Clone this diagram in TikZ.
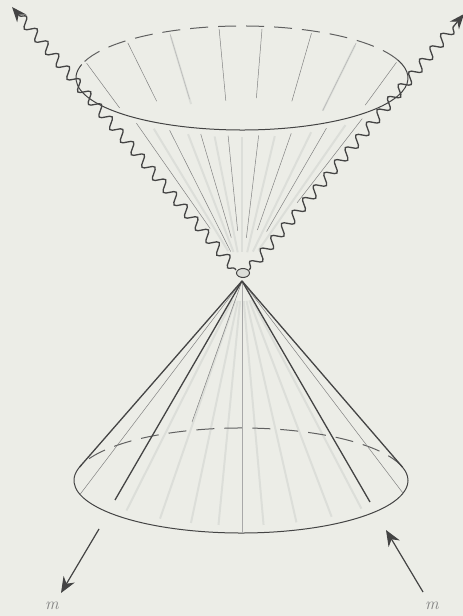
\documentclass[tikz,border=0pt]{standalone}
\usetikzlibrary{calc,decorations.pathmorphing,arrows.meta}
\definecolor{paper}{RGB}{236,237,231}
\definecolor{ink}{RGB}{68,68,68}
\definecolor{pencil}{RGB}{130,130,130}
\definecolor{ghost}{RGB}{220,222,217}
\begin{document}
\begin{tikzpicture}[x=1pt,y=1pt,
  rim/.style={ink, line width=1pt},
  rimback/.style={ink!85, line width=1pt, dash pattern=on 18pt off 10pt},
  edge/.style={ink, line width=1.3pt},
  fine/.style={pencil, line width=0.5pt},
  faint/.style={ghost, line width=2pt},
  photon/.style={ink, line width=1.3pt, decorate,
    decoration={snake, segment length=16.5pt, amplitude=5pt, pre length=2pt, post length=11pt},
    -{Stealth[length=15pt,width=12pt]}},
  particle/.style={ink, line width=1.2pt, -{Stealth[length=16pt,width=13pt]}},
  mass/.style={pencil, font=\fontsize{17}{17}\selectfont\itshape, inner sep=0pt}]
\fill[paper] (0,0) rectangle (463,616);
\useasboundingbox (0,0) rectangle (463,616);

% centres of the two rims and the common vertex
\coordinate (U) at (242,538);
\coordinate (AU) at (242,342);
\coordinate (AL) at (242,335);
\coordinate (L) at (241,135.5);

% faint streaks inside both cones
\foreach \t in {236,250,260,270,282,296,311}{
  \path (U) ++(\t:166 and 52) coordinate (g);
  \draw[faint] ($(g)!0.05!(AU)$) -- ($(g)!0.85!(AU)$);
}
\foreach \t in {116,46}{
  \path (U) ++(\t:166 and 52) coordinate (g);
  \draw[faint] ($(g)!0.02!(AU)$) -- ($(g)!0.3!(AU)$);
}
\foreach \t in {225,240,252,262,278,290,304,318}{
  \path (L) ++(\t:167 and 52.5) coordinate (g);
  \draw[faint] ($(AL)!0.08!(g)$) -- ($(AL)!0.97!(g)$);
}

% upper cone: rim
\path (U) ++(20:166 and 52) coordinate (ub);
\path (U) ++(165:166 and 52) coordinate (uf);
\draw[rimback] (ub) arc[start angle=20, end angle=165, x radius=166, y radius=52];
\draw[rim] (uf) arc[start angle=165, end angle=380, x radius=166, y radius=52];

% upper cone: rulings seen through the opening
\foreach \t/\f in {161/0.22,134/0.26,98/0.30,83/0.29,65/0.29,20/0.21}{
  \path (U) ++(\t:166 and 52) coordinate (b);
  \draw[fine] ($(b)!0.01!(AU)$) -- ($(b)!\f!(AU)$);
}
\foreach \t/\f in {116/0.28,46/0.30}{
  \path (U) ++(\t:166 and 52) coordinate (b);
  \draw[fine, pencil!60] ($(b)!0.01!(AU)$) -- ($(b)!\f!(AU)$);
}
% upper cone: rulings on the front
\foreach \t/\f in {228.5/0.71,243/0.85,255/0.75,265/0.70,276/0.75,288/0.70,302/0.72,319/0.56}{
  \path (U) ++(\t:166 and 52) coordinate (b);
  \draw[fine] ($(b)!0.04!(AU)$) -- ($(b)!\f!(AU)$);
}

% outgoing wavy lines
\coordinate (wl0) at (236,346);
\coordinate (wl1) at (12,609);
\coordinate (wr0) at (249,346);
\coordinate (wr1) at (464,602);
\draw[photon] (wl0) -- (wl1);
\draw[photon] (wr0) -- (wr1);
\draw[ink, line width=1pt, fill=ghost] (243,343) ellipse [x radius=6.5, y radius=4.5];

% lower cone: rim
\path (L) ++(165:167 and 52.5) coordinate (sl);
\path (L) ++(15:167 and 52.5) coordinate (sr);
\draw[rimback] (sr) arc[start angle=15, end angle=165, x radius=167, y radius=52.5];
\draw[rim] (sl) arc[start angle=165, end angle=375, x radius=167, y radius=52.5];

% lower cone: rulings
\path (L) ++(195.4:167 and 52.5) coordinate (tl);
\path (L) ++(346:167 and 52.5) coordinate (tr);
\coordinate (il) at (115,116);
\coordinate (ir) at (370,114);
\coordinate (bk) at (192,194);
\coordinate (bt) at (242,83);
\draw[fine, pencil!70] (AL) -- (bt);
\draw[fine] (AL) -- (bk);
\draw[fine] (AL) -- (tl);
\draw[fine] (AL) -- (tr);
\draw[edge] (AL) -- (il);
\draw[edge] (AL) -- (ir);
\draw[edge] (AL) -- (sl);
\draw[edge] (AL) -- (sr);

% incoming and outgoing massive particles
\coordinate (ml0) at (99,87);
\coordinate (ml1) at (61,23);
\coordinate (mr0) at (423,24);
\coordinate (mr1) at (386,86);
\draw[particle] (ml0) -- (ml1);
\draw[particle] (mr0) -- (mr1);
\node[mass] (ml) at (52,10) {m};
\node[mass] (mr) at (432,10) {m};
\end{tikzpicture}
\end{document}
